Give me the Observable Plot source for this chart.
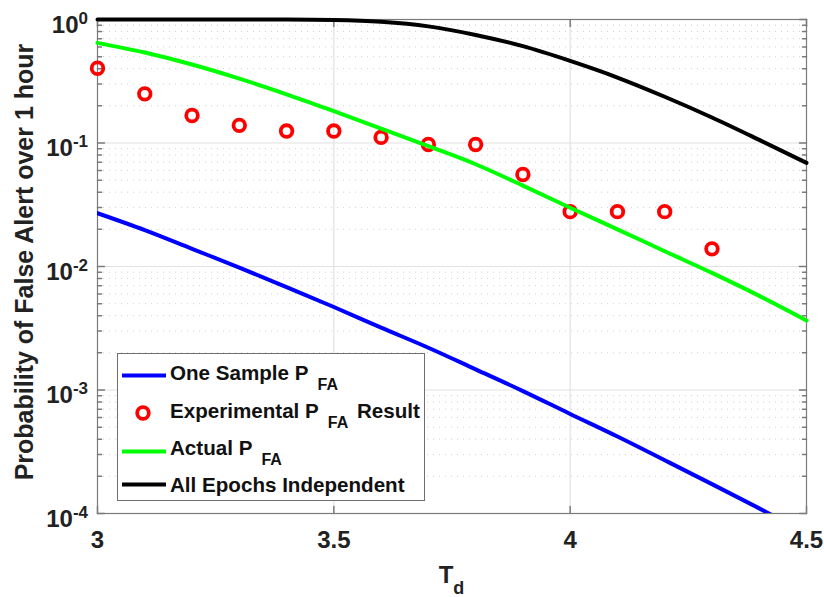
<!DOCTYPE html>
<html>
<head>
<meta charset="utf-8">
<script src="https://cdn.jsdelivr.net/npm/d3@7"></script>
<script src="https://cdn.jsdelivr.net/npm/@observablehq/plot@0.6"></script>
<style>
  html, body { margin: 0; padding: 0; background: #fff; }
  #chart svg { display: block; font-family: "Liberation Sans", Arial, sans-serif; }
</style>
</head>
<body>
<div id="chart"></div>
<script>
// ---- data ----
const td = [3.0, 3.1, 3.2, 3.3, 3.4, 3.5, 3.6, 3.7, 3.8, 3.9, 4.0, 4.1, 4.2, 4.3, 4.4, 4.5];
const oneSamplePfa = [0.027, 0.0197, 0.0139, 0.0098, 0.0068, 0.0047, 0.0032, 0.0022, 0.00147, 0.00098, 0.00064, 0.00042, 0.00027, 0.000173, 0.00011, 0.000069];
const actualPfa = [0.647, 0.540, 0.432, 0.332, 0.248, 0.181, 0.131, 0.0944, 0.0673, 0.0452, 0.0299, 0.0200, 0.0133, 0.00887, 0.00578, 0.00365];
const allEpochs = [1.0, 1.0, 1.0, 0.9999, 0.9988, 0.990, 0.958, 0.880, 0.750, 0.608, 0.462, 0.339, 0.237, 0.161, 0.106, 0.069];
const expTd = [3.0, 3.1, 3.2, 3.3, 3.4, 3.5, 3.6, 3.7, 3.8, 3.9, 4.0, 4.1, 4.2, 4.3];
const expPfa = [0.403, 0.25, 0.167, 0.139, 0.125, 0.125, 0.111, 0.0972, 0.0972, 0.0556, 0.0278, 0.0278, 0.0278, 0.0139];

const xTicks = [3, 3.5, 4, 4.5];
const xTickLabels = ["3", "3.5", "4", "4.5"];
const yExponents = [0, -1, -2, -3, -4];
const yLabel = "Probability of False Alert over 1 hour";
const xLabelMain = "T";
const xLabelSub = "d";
const legendItems = [
  {pre: "One Sample P", sub: "FA", post: "", color: "#0000ff", kind: "line"},
  {pre: "Experimental P", sub: "FA", post: " Result", color: "#ff0000", kind: "dot"},
  {pre: "Actual P", sub: "FA", post: "", color: "#00ff00", kind: "line"},
  {pre: "All Epochs Independent", sub: "", post: "", color: "#000000", kind: "line"}
];

// ---- derived tables ----
const seriesRows = (ys) => td.map((t, i) => ({t, v: ys[i]}));
const blueRows = seriesRows(oneSamplePfa);
const greenRows = seriesRows(actualPfa);
const blackRows = seriesRows(allEpochs);
const expRows = expTd.map((t, i) => ({t, v: expPfa[i]}));
const majorY = yExponents.map(e => 10 ** e);
const minorY = [];
for (const e of [-4, -3, -2, -1]) for (let k = 2; k <= 9; k++) minorY.push(k * 10 ** e);
const innerMajorY = majorY.filter(v => v > 1e-4 && v < 1);
const innerX = xTicks.filter(v => v > 3 && v < 4.5);

const axisColor = "#7a7a7a";
const tickShape = {draw(ctx, l) { ctx.moveTo(0, 0); ctx.lineTo(0, -l); }};

const chart = Plot.plot({
  width: 824,
  height: 597,
  marginTop: 19,
  marginRight: 18,
  marginBottom: 84,
  marginLeft: 97,
  x: {domain: [3, 4.5], axis: null},
  y: {type: "log", domain: [1e-4, 1], axis: null},
  style: {fontFamily: "Liberation Sans, Arial, sans-serif", fontWeight: "bold", fontSize: "24px", color: "#222"},
  marks: [
    Plot.ruleY(minorY, {stroke: "#d0d0d0", strokeWidth: 1, strokeDasharray: "1,5"}),
    Plot.ruleY(innerMajorY, {stroke: "#e2e2e2", strokeWidth: 1.2}),
    Plot.ruleX(innerX, {stroke: "#e2e2e2", strokeWidth: 1.2}),
    // inward ticks
    Plot.vector(majorY, {x: 3, y: d => d, length: 7, rotate: 90, anchor: "start", shape: tickShape, stroke: axisColor}),
    Plot.vector(minorY, {x: 3, y: d => d, length: 4, rotate: 90, anchor: "start", shape: tickShape, stroke: axisColor}),
    Plot.vector(majorY, {x: 4.5, y: d => d, length: 7, rotate: -90, anchor: "start", shape: tickShape, stroke: axisColor}),
    Plot.vector(minorY, {x: 4.5, y: d => d, length: 4, rotate: -90, anchor: "start", shape: tickShape, stroke: axisColor}),
    Plot.vector(xTicks, {x: d => d, y: 1e-4, length: 7, rotate: 0, anchor: "start", shape: tickShape, stroke: axisColor}),
    Plot.vector(xTicks, {x: d => d, y: 1, length: 7, rotate: 180, anchor: "start", shape: tickShape, stroke: axisColor}),
    Plot.frame({stroke: axisColor, strokeWidth: 1.2}),
    // data
    Plot.line(blueRows, {x: "t", y: "v", stroke: "#0000ff", strokeWidth: 4, curve: "monotone-x", clip: true}),
    Plot.dot(expRows, {x: "t", y: "v", r: 5.8, stroke: "#ff0000", strokeWidth: 3.8, fill: "none"}),
    Plot.line(greenRows, {x: "t", y: "v", stroke: "#00ff00", strokeWidth: 4, curve: "monotone-x"}),
    Plot.line(blackRows, {x: "t", y: "v", stroke: "#000000", strokeWidth: 4, curve: "monotone-x"}),
    // x tick labels
    Plot.axisX(xTicks, {tickSize: 0, tickPadding: 17, tickFormat: d => xTickLabels[xTicks.indexOf(d)], label: null, fontSize: 24, fontWeight: "bold", fill: "#222"})
  ]
});

document.getElementById("chart").appendChild(chart);

// ---- superscript tick labels, axis titles and legend, positioned with Plot's scales ----
const xsc = chart.scale("x");
const ysc = chart.scale("y");
const svgSel = d3.select(chart);
const ann = svgSel.append("g").attr("font-family", "Liberation Sans, Arial, sans-serif").attr("font-weight", "bold").attr("fill", "#222");

const frameLeft = xsc.apply(3);
const frameRight = xsc.apply(4.5);
const frameTop = ysc.apply(1);
const frameBottom = ysc.apply(1e-4);

for (const e of yExponents) {
  const t = ann.append("text")
    .attr("x", frameLeft - 9)
    .attr("y", ysc.apply(10 ** e) + 13.5)
    .attr("text-anchor", "end")
    .attr("font-size", 24);
  t.append("tspan").text("10");
  t.append("tspan").attr("font-size", 17).attr("dy", -9).text(String(e));
}

const xl = ann.append("text")
  .attr("x", (frameLeft + frameRight) / 2)
  .attr("y", 583)
  .attr("text-anchor", "middle")
  .attr("font-size", 24);
xl.append("tspan").text(xLabelMain);
xl.append("tspan").attr("font-size", 18).attr("dy", 11).text(xLabelSub);

ann.append("text")
  .attr("transform", `translate(33,${(frameTop + frameBottom) / 2 - 4}) rotate(-90)`)
  .attr("text-anchor", "middle")
  .attr("font-size", 25)
  .text(yLabel);

// legend
const lg = svgSel.append("g").attr("font-family", "Liberation Sans, Arial, sans-serif").attr("font-weight", "bold");
lg.append("rect").attr("x", 117.5).attr("y", 353.5).attr("width", 307).attr("height", 147)
  .attr("fill", "#fff").attr("stroke", "#6e6e6e").attr("stroke-width", 1);
const rowMarkY = [375.5, 413, 451.5, 484.5];
const rowBaseY = [380, 417.5, 455, 491.5];
legendItems.forEach((item, i) => {
  if (item.kind === "line") {
    lg.append("line").attr("x1", 122).attr("x2", 166).attr("y1", rowMarkY[i]).attr("y2", rowMarkY[i])
      .attr("stroke", item.color).attr("stroke-width", 4);
  } else {
    lg.append("circle").attr("cx", 143).attr("cy", rowMarkY[i]).attr("r", 5.8)
      .attr("fill", "none").attr("stroke", item.color).attr("stroke-width", 3.8);
  }
  const t = lg.append("text").attr("x", 170).attr("y", rowBaseY[i]).attr("font-size", 20.6)
    .attr("fill", "#111").attr("text-anchor", "start");
  t.append("tspan").text(item.pre);
  if (item.sub) t.append("tspan").attr("font-size", 16).attr("dx", 9).attr("dy", 10).text(item.sub);
  if (item.post) t.append("tspan").attr("font-size", 20.6).attr("dy", -10).attr("dx", 3).text(item.post);
});
</script>
</body>
</html>
